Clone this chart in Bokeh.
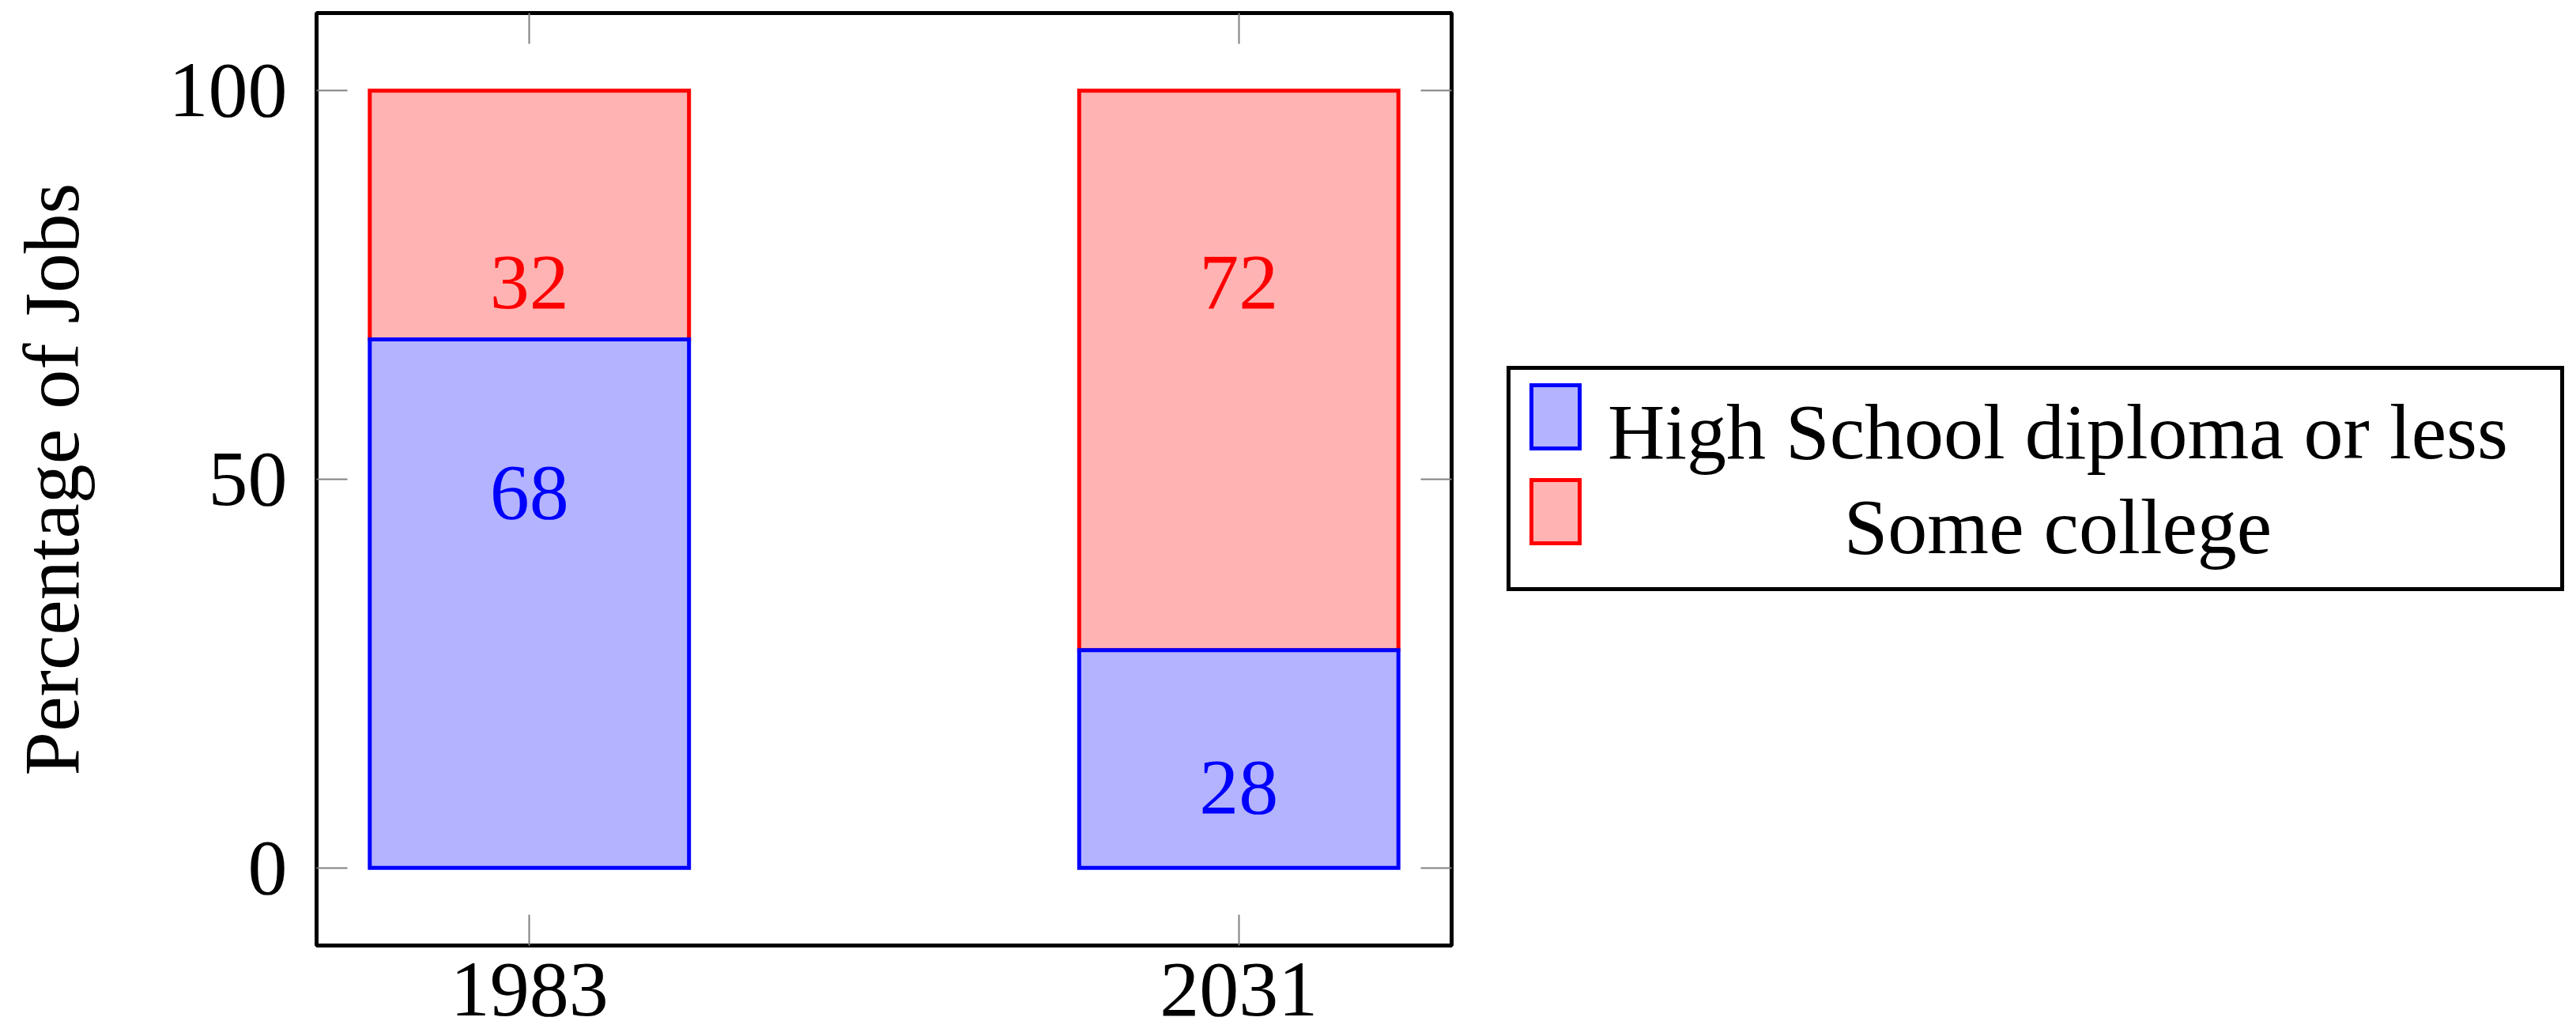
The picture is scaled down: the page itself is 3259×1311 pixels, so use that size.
from bokeh.plotting import figure
from bokeh.models import Range1d, LinearAxis, FixedTicker, ColumnDataSource
from bokeh.layouts import row
from bokeh.embed import file_html
from bokeh.resources import INLINE
from bokeh.core.properties import value

# ---- data ----
years = ["1983", "2031"]
hs_or_less = [68, 28]
some_college = [32, 72]
series_names = ["High School diploma or less", "Some college"]
# value-label baselines (in data units) as placed in the reference
hs_label_y = [45.5, 7.6]
sc_label_y = [72.6, 72.6]
y_ticks = [0, 50, 100]

FONT = "Liberation Serif"
FS = "100px"
BLUE_LINE, BLUE_FILL = "#0000FF", "#B3B3FF"
RED_LINE, RED_FILL = "#FF0000", "#FFB3B3"
TICK = "#808080"
LW = 5
BASE_FIX = -27  # bokeh's "alphabetic" box sits lower than the true baseline

xs = list(range(len(years)))
tops = [a + b for a, b in zip(hs_or_less, some_college)]
src = ColumnDataSource(dict(
    x=xs, hs=hs_or_less, top=tops,
    hs_txt=[str(v) for v in hs_or_less], sc_txt=[str(v) for v in some_college],
    hs_ly=hs_label_y, sc_ly=sc_label_y,
))

p = figure(frame_width=1436, frame_height=1180,
           x_range=Range1d(-0.3, 1.3), y_range=Range1d(-10, 110),
           output_backend="svg", toolbar_location=None,
           min_border_left=400, min_border_top=16, min_border_right=10, min_border_bottom=115)
p.grid.visible = False
p.outline_line_color = "black"
p.outline_line_width = LW
p.background_fill_color = "white"
p.border_fill_color = "white"

p.vbar(x="x", bottom="hs", top="top", width=0.45, fill_color=RED_FILL,
       line_color=RED_LINE, line_width=LW, line_join="miter", source=src)
p.vbar(x="x", bottom=0, top="hs", width=0.45, fill_color=BLUE_FILL,
       line_color=BLUE_LINE, line_width=LW, line_join="miter", source=src)

p.text(x="x", y="hs_ly", text="hs_txt", text_color=BLUE_LINE, text_font=value(FONT),
       text_font_size=FS, text_align="center", text_baseline="alphabetic",
       y_offset=BASE_FIX, source=src)
p.text(x="x", y="sc_ly", text="sc_txt", text_color=RED_LINE, text_font=value(FONT),
       text_font_size=FS, text_align="center", text_baseline="alphabetic",
       y_offset=BASE_FIX, source=src)


def style_axis(ax):
    ax.axis_line_color = None
    ax.major_tick_in = 39
    ax.major_tick_out = 0
    ax.major_tick_line_color = TICK
    ax.major_tick_line_width = 2
    ax.minor_tick_line_color = None
    ax.major_label_text_font = FONT
    ax.major_label_text_font_size = FS
    ax.major_label_text_color = "black"


xa = p.xaxis[0]
xa.ticker = FixedTicker(ticks=xs)
xa.major_label_overrides = {i: y for i, y in enumerate(years)}
style_axis(xa)
xa.major_label_standoff = 23

ya = p.yaxis[0]
ya.ticker = FixedTicker(ticks=y_ticks)
style_axis(ya)
ya.major_label_standoff = 37
ya.axis_label = "Percentage of Jobs"
ya.axis_label_text_font = FONT
ya.axis_label_text_font_size = FS
ya.axis_label_text_font_style = "normal"
ya.axis_label_text_color = "black"
ya.axis_label_standoff = 90

top_ax = LinearAxis(ticker=FixedTicker(ticks=xs),
                    major_label_overrides={i: "" for i in xs})
style_axis(top_ax)
top_ax.major_label_text_font_size = "1px"
top_ax.major_label_standoff = 0
p.add_layout(top_ax, "above")

right_ax = LinearAxis(ticker=FixedTicker(ticks=y_ticks),
                      major_label_overrides={t: "" for t in y_ticks})
style_axis(right_ax)
right_ax.major_label_text_font_size = "1px"
right_ax.major_label_standoff = 0
p.add_layout(right_ax, "right")

# ---- legend panel (its frame is aligned with the main frame by the row) ----
# pixel coordinates: x=0 at the legend box's left edge, y=0 at the main frame bottom
lg = figure(frame_width=1349, frame_height=1180,
            x_range=Range1d(-8, 1341), y_range=Range1d(0, 1180),
            output_backend="svg", toolbar_location=None,
            min_border_left=54, min_border_top=16, min_border_right=0, min_border_bottom=115)
lg.axis.visible = False
lg.grid.visible = False
lg.outline_line_color = None
lg.border_fill_color = "white"
lg.background_fill_color = "white"

lg.quad(left=[0], right=[1333], top=[731], bottom=[451], fill_color="white",
        line_color="black", line_width=LW, line_join="miter")
leg = ColumnDataSource(dict(
    left=[29, 29], right=[90, 90], top=[709, 589], bottom=[629, 509],
    fill=[BLUE_FILL, RED_FILL], line=[BLUE_LINE, RED_LINE],
    tx=[695, 695], ty=[623, 503], name=series_names,
))
lg.quad(left="left", right="right", top="top", bottom="bottom", fill_color="fill",
        line_color="line", line_width=LW, line_join="miter", source=leg)
lg.text(x="tx", y="ty", text="name", text_font=value(FONT), text_font_size=FS,
        text_color="black", text_align="center", text_baseline="alphabetic",
        y_offset=BASE_FIX, source=leg)

layout = row(p, lg)
open("out.html", "w").write(file_html(layout, INLINE))
